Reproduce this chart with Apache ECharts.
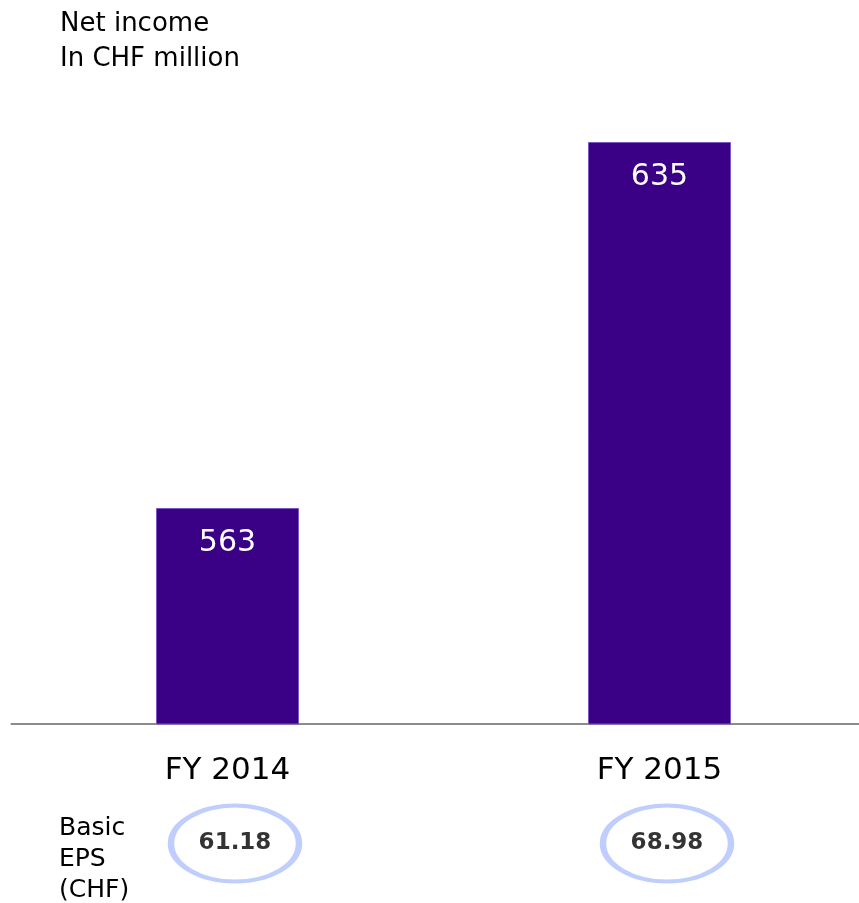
<!DOCTYPE html>
<html>
<head>
<meta charset="utf-8">
<script src="https://cdn.jsdelivr.net/npm/echarts@6/dist/echarts.min.js"></script>
<style>html,body{margin:0;padding:0;background:#fff}#c{width:859px;height:903px}</style>
</head>
<body>
<div id="c"></div>
<script>
const categories = ['FY 2014', 'FY 2015'];
const netIncome = [563, 635];
const basicEps = [61.18, 68.98];
const titleLines = ['Net income', 'In CHF million'];
const epsLabelLines = ['Basic', 'EPS', '(CHF)'];

const FONT = 'DejaVu Sans, Verdana, sans-serif';
const chart = echarts.init(document.getElementById('c'), null, {renderer: 'canvas'});
chart.setOption({
  backgroundColor: '#ffffff',
  animation: false,
  title: [
    {text: titleLines.join('\n'), left: 55, top: 2,
     textStyle: {fontFamily: FONT, fontSize: 26, fontWeight: 'normal', color: '#000', lineHeight: 35}},
    {text: epsLabelLines.join('\n'), left: 54, top: 808,
     textStyle: {fontFamily: FONT, fontSize: 25, fontWeight: 'normal', color: '#000', lineHeight: 31}}
  ],
  grid: [
    {left: 11.5, width: 864, top: 142, bottom: 179, outerBoundsMode: 'none', containLabel: false},
    {left: 19, width: 864, top: 803, height: 81, outerBoundsMode: 'none', containLabel: false}
  ],
  xAxis: [
    {type: 'category', gridIndex: 0, data: categories,
     axisLine: {lineStyle: {color: '#8c8c8c', width: 2}},
     axisTick: {show: false},
     axisLabel: {fontFamily: FONT, fontSize: 31, color: '#000', margin: 31}},
    {type: 'category', gridIndex: 1, data: categories, show: false}
  ],
  yAxis: [
    {type: 'value', gridIndex: 0, min: 520.5, max: 635, show: false, splitLine: {show: false}},
    {type: 'value', gridIndex: 1, min: -1, max: 1, show: false, splitLine: {show: false}}
  ],
  series: [
    {type: 'bar', xAxisIndex: 0, yAxisIndex: 0, data: netIncome, barWidth: 143,
     itemStyle: {color: '#3a0085', borderColor: '#7b58c4', borderWidth: 1},
     label: {show: true, position: 'insideTop', distance: 20,
             fontFamily: FONT, fontSize: 30, color: '#fff'}},
    {type: 'scatter', xAxisIndex: 1, yAxisIndex: 1,
     data: basicEps.map((v, i) => [i, 0, v]),
     symbol: 'circle', symbolSize: [128, 76],
     itemStyle: {color: '#fff', borderColor: '#afc2fb', borderWidth: 5},
     label: {show: true, position: 'inside', formatter: p => p.value[2].toFixed(2),
             fontFamily: FONT, fontSize: 23, fontWeight: 'bold', color: '#000'}}
  ]
});
</script>
</body>
</html>
